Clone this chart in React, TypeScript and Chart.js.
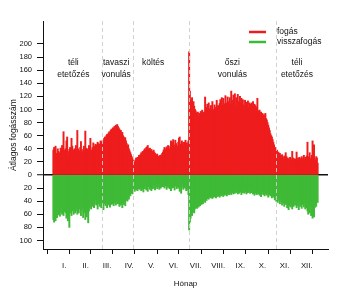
import { useEffect, useRef } from 'react';
import { Chart, registerables } from 'chart.js';

Chart.register(...registerables);

const FONT = '"Liberation Sans", Arial, Helvetica, sans-serif';
const INK = '#111111';
const RED = '#ee1d1d';
const GREEN = '#3fba37';

const monthLabels = ['I.', 'II.', 'III.', 'IV.', 'V.', 'VI.', 'VII.', 'VIII.', 'IX.', 'X.', 'XI.', 'XII.'];
const monthStarts = [0, 31, 59, 90, 120, 151, 181, 212, 243, 273, 304, 334, 365];
const yTicks = [-100, -80, -60, -40, -20, 0, 20, 40, 60, 80, 100, 120, 140, 160, 180, 200];

// daily mean catches ("fogás"), Jan 1 .. Dec 31
const fogas = [
  38, 42, 35, 44, 30, 33, 40, 36, 28, 34, 41, 37, 45, 32, 66, 38, 34, 40, 52, 58, 36, 30, 39, 42, 35, 56, 44, 33, 38, 40, 36,
  45, 38, 68, 40, 34, 37, 42, 51, 36, 33, 39, 44, 38, 67, 41, 35, 40, 37, 45, 43, 56, 38, 36, 42, 49, 40, 44, 47,
  46, 44, 50, 48, 42, 47, 52, 49, 51, 53, 50, 56, 58, 55, 60, 62, 59, 64, 66, 63, 68, 70, 67, 72, 71, 74, 73, 76, 75, 77, 74,
  72, 70, 66, 68, 63, 65, 60, 58, 55, 57, 52, 48, 44, 46, 40, 37, 34, 31, 28, 25, 22, 20, 19, 23, 26, 25, 27, 26, 30, 29,
  31, 34, 33, 36, 35, 38, 40, 37, 42, 43, 45, 40, 38, 41, 37, 39, 36, 34, 38, 35, 33, 31, 30, 32, 28, 29, 27, 30, 26, 31, 33,
  35, 38, 42, 40, 37, 43, 39, 45, 41, 38, 44, 52, 47, 50, 54, 46, 42, 53, 48, 45, 43, 50, 56, 58, 47, 44, 52, 49, 45, 50,
  46, 53, 40, 49, 44, 52, 188, 128, 115, 110, 118, 108, 112, 105, 100, 98, 95, 92, 96, 90, 94, 88, 97, 93, 99, 91, 96, 94, 119, 100, 103,
  108, 96, 110, 101, 94, 106, 99, 112, 100, 95, 107, 103, 97, 114, 104, 106, 100, 109, 115, 103, 118, 106, 117, 109, 104, 121, 110, 106, 119, 112, 105,
  118, 108, 128, 114, 106, 122, 110, 124, 105, 118, 110, 123, 112, 104, 120, 108, 117, 102, 115, 107, 100, 114, 104, 111, 99, 113, 103, 110, 98, 108,
  110, 105, 112, 103, 108, 106, 100, 104, 117, 98, 95, 99, 92, 96, 90, 94, 90, 92, 88, 94, 86, 84, 80, 76, 72, 68, 63, 60, 58, 54, 50,
  46, 40, 42, 36, 38, 32, 35, 28, 33, 30, 26, 31, 27, 24, 29, 25, 34, 28, 22, 26, 24, 21, 27, 25, 23, 36, 26, 22, 25, 20,
  24, 35, 22, 26, 20, 27, 23, 25, 28, 22, 26, 30, 24, 27, 21, 29, 50, 25, 28, 34, 23, 26, 30, 52, 27, 46, 24, 22, 28, 26, 18,
];

// daily mean recaptures ("visszafogás"), drawn below zero
const visszafogas = [
  -68, -72, -60, -70, -55, -65, -58, -61, -52, -63, -57, -50, -60, -54, -62, -56, -48, -58, -66, -60, -70, -64, -80, -58, -52, -62, -55, -49, -60, -53, -58,
  -55, -50, -60, -46, -58, -52, -48, -62, -54, -50, -65, -58, -56, -68, -60, -64, -57, -73, -55, -50, -45, -52, -42, -48, -40, -50, -44, -38,
  -46, -40, -52, -44, -38, -48, -42, -50, -45, -39, -53, -44, -41, -47, -43, -50, -38, -46, -42, -49, -40, -45, -44, -38, -47, -41, -43, -46, -39, -44, -42,
  -44, -48, -40, -46, -42, -50, -38, -45, -41, -47, -39, -36, -40, -34, -37, -30, -32, -28, -26, -29, -24, -22, -25, -20, -23, -19, -24, -21, -18, -22,
  -20, -24, -18, -22, -26, -19, -21, -17, -23, -20, -25, -18, -16, -22, -19, -24, -17, -21, -15, -20, -23, -18, -16, -21, -19, -14, -22, -17, -20, -18, -16,
  -18, -15, -20, -13, -17, -22, -16, -19, -14, -21, -18, -24, -16, -20, -15, -19, -23, -17, -14, -21, -18, -16, -20, -25, -17, -28, -19, -15, -22, -18,
  -20, -16, -24, -18, -22, -30, -84, -72, -66, -60, -62, -57, -55, -58, -52, -50, -48, -51, -46, -49, -44, -47, -43, -45, -41, -44, -40, -38, -42, -37, -39,
  -36, -33, -37, -34, -31, -35, -32, -36, -30, -34, -33, -31, -35, -29, -33, -32, -30, -34, -28, -32, -31, -29, -33, -27, -31, -30, -28, -32, -29, -27, -30,
  -28, -26, -30, -25, -27, -29, -24, -28, -26, -23, -27, -29, -25, -28, -24, -26, -30, -25, -27, -23, -28, -26, -24, -29, -25, -27, -22, -26, -28, -25,
  -27, -24, -29, -26, -31, -25, -28, -30, -26, -29, -24, -31, -27, -33, -28, -25, -30, -27, -32, -29, -26, -31, -28, -34, -30, -27, -32, -29, -35, -31, -33,
  -34, -38, -31, -40, -36, -42, -35, -39, -44, -37, -41, -46, -38, -43, -48, -40, -45, -42, -50, -44, -53, -47, -41, -49, -45, -52, -43, -48, -40, -46,
  -44, -50, -40, -47, -53, -42, -48, -38, -51, -45, -41, -49, -43, -52, -46, -50, -55, -60, -52, -58, -48, -62, -56, -66, -54, -64, -50, -45, -48, -40, -42,
];

// season boundaries (day of year) and season captions
const phaseBounds = [67, 110, 187, 307];
const phaseCenters = [28, 87, 138, 247, 336];
const phaseLabels = [
  ['téli', 'etetőzés'],
  ['tavaszi', 'vonulás'],
  ['költés'],
  ['őszi', 'vonulás'],
  ['téli', 'etetőzés'],
];
const phaseLineValues = [171, 152.7];

const monthMids = monthLabels.map((_, i) => (monthStarts[i] + monthStarts[i + 1]) / 2);

const overlayPlugin = {
  id: 'overlay',
  afterDatasetsDraw(chart: any) {
    const { ctx, chartArea, scales } = chart;
    ctx.save();
    ctx.strokeStyle = 'rgba(205,205,205,0.9)';
    ctx.lineWidth = 1;
    ctx.setLineDash([4, 3]);
    phaseBounds.forEach((d) => {
      const x = Math.round(scales.x.getPixelForValue(d)) + 0.5;
      ctx.beginPath();
      ctx.moveTo(x, chartArea.top);
      ctx.lineTo(x, chartArea.bottom);
      ctx.stroke();
    });
    ctx.restore();
  },
  afterDraw(chart: any) {
    const { ctx, chartArea, scales } = chart;
    ctx.save();
    ctx.fillStyle = INK;
    ctx.font = `8.5px ${FONT}`;
    ctx.textAlign = 'center';
    ctx.textBaseline = 'middle';
    phaseLabels.forEach((lines, i) => {
      const x = scales.x.getPixelForValue(phaseCenters[i]);
      lines.forEach((t, j) => {
        ctx.fillText(t, x, scales.y.getPixelForValue(phaseLineValues[j]));
      });
    });
    // legend
    const lx = chartArea.right - 79;
    chart.data.datasets.forEach((ds: any, i: number) => {
      const y = chartArea.top + 11 + i * 10;
      ctx.strokeStyle = ds.backgroundColor;
      ctx.lineWidth = 2.5;
      ctx.beginPath();
      ctx.moveTo(lx, y);
      ctx.lineTo(lx + 17, y);
      ctx.stroke();
      ctx.textAlign = 'left';
      ctx.fillText(ds.label, lx + 28, y);
    });
    ctx.restore();
  },
};

export default function App() {
  const ref = useRef<HTMLCanvasElement>(null);
  useEffect(() => {
    if (!ref.current) return;
    const tickFont = { family: FONT, size: 7.5 };
    const chart = new Chart(ref.current, {
      type: 'bar',
      data: {
        datasets: [
          {
            label: 'fogás',
            data: fogas.map((v, i) => ({ x: i + 0.5, y: v })),
            backgroundColor: RED,
            borderWidth: 0,
            barThickness: 1.3,
            grouped: false,
          } as any,
          {
            label: 'visszafogás',
            data: visszafogas.map((v, i) => ({ x: i + 0.5, y: v })),
            backgroundColor: GREEN,
            borderWidth: 0,
            barThickness: 1.3,
            grouped: false,
          } as any,
        ],
      },
      options: {
        animation: false,
        responsive: false,
        devicePixelRatio: 1,
        layout: { padding: { top: 21, right: 21, left: 0, bottom: 0 } },
        plugins: { legend: { display: false }, tooltip: { enabled: false } },
        scales: {
          x: {
            type: 'linear',
            min: -13.77,
            max: 378.77,
            offset: false,
            afterBuildTicks: (scale: any) => {
              const vals = [...monthStarts, ...monthMids].sort((a, b) => a - b);
              scale.ticks = vals.map((v) => ({ value: v }));
            },
            afterFit: (scale: any) => {
              scale.height = 42;
            },
            ticks: {
              autoSkip: false,
              maxRotation: 0,
              minRotation: 0,
              padding: 7,
              color: INK,
              font: { family: FONT, size: 7.8 },
              callback: (v: any) => {
                const idx = monthMids.indexOf(Number(v));
                return idx >= 0 ? monthLabels[idx] : '';
              },
            },
            grid: {
              drawOnChartArea: false,
              tickLength: 5,
              tickWidth: 1,
              tickColor: (c: any) =>
                c.tick && monthStarts.includes(c.tick.value) ? INK : 'rgba(0,0,0,0)',
            },
            border: { color: INK, width: 1 },
            title: {
              display: true,
              text: 'Hónap',
              color: INK,
              font: { family: FONT, size: 8 },
              padding: { top: 0, bottom: 2.2 },
            },
          } as any,
          y: {
            type: 'linear',
            min: -113,
            max: 235,
            z: 1,
            afterBuildTicks: (scale: any) => {
              scale.ticks = yTicks.map((v) => ({ value: v }));
            },
            afterFit: (scale: any) => {
              scale.width = 43;
            },
            ticks: {
              padding: 5,
              color: INK,
              font: tickFont,
              callback: (v: any) => String(Math.abs(Number(v))),
            },
            grid: {
              drawOnChartArea: true,
              color: (c: any) => (c.tick && c.tick.value === 0 ? '#111111' : 'rgba(0,0,0,0)'),
              lineWidth: (c: any) => (c.tick && c.tick.value === 0 ? 1.5 : 1),
              tickLength: 6,
              tickWidth: 1,
              tickColor: INK,
            },
            border: { color: INK, width: 1 },
            title: {
              display: true,
              text: 'Átlagos fogásszám',
              color: INK,
              font: { family: FONT, size: 8.5 },
              padding: { top: 9, bottom: 0 },
            },
          } as any,
        },
      },
      plugins: [overlayPlugin],
    });
    return () => chart.destroy();
  }, []);
  return (
    <div style={{ position: 'absolute', left: 0, top: 0, width: 349, height: 291, background: '#fff' }}>
      <canvas ref={ref} width={349} height={291} style={{ display: 'block', width: 349, height: 291 }} />
    </div>
  );
}
